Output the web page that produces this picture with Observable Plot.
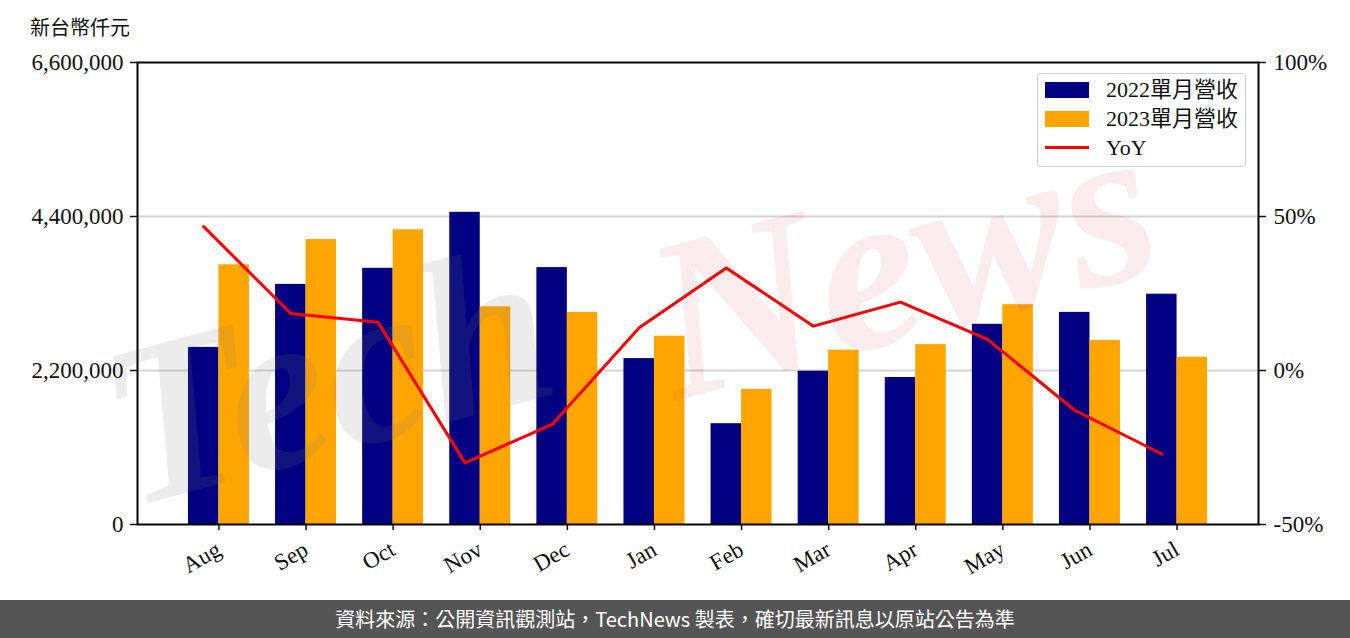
<!DOCTYPE html>
<html lang="zh-Hant"><head><meta charset="utf-8">
<script src="https://cdn.jsdelivr.net/npm/d3@7"></script>
<script src="https://cdn.jsdelivr.net/npm/@observablehq/plot@0.6"></script>
<style>
body{margin:0;background:#fff;width:1350px;height:638px;overflow:hidden;position:relative;font-family:"Liberation Serif","Noto Sans CJK TC",serif;}
#title{position:absolute;left:30px;top:14px;font-size:20px;line-height:28px;font-family:"Liberation Serif","Noto Sans CJK TC",serif;color:#111;}
#chart{position:absolute;left:0;top:45px;}
#footer{position:absolute;left:0;top:600px;width:1350px;height:38px;background:#555555;color:#fff;font-family:"Noto Sans CJK TC",sans-serif;font-size:20px;text-align:center;line-height:38px;}
#legend{position:absolute;left:1037px;top:73px;width:207px;height:92px;border:1.5px solid #cfcfcf;border-radius:4px;background:rgba(255,255,255,0.85);}
.li{position:absolute;left:0;height:24px;width:207px;}
.sw{position:absolute;left:7px;width:44px;}
.lt{position:absolute;left:68px;top:0;font-size:22px;line-height:24px;color:#111;white-space:nowrap;}
</style></head>
<body>
<div id="title">新台幣仟元</div>
<div id="chart"></div>
<div id="legend"></div>
<div id="footer" lang="zh-Hant">資料來源：公開資訊觀測站，TechNews 製表，確切最新訊息以原站公告為準</div>
<script>
const months = ["Aug","Sep","Oct","Nov","Dec","Jan","Feb","Mar","Apr","May","Jun","Jul"];
const rev2022 = [2530000,3430000,3660000,4460000,3670000,2370000,1440000,2190000,2100000,2860000,3030000,3290000];
const rev2023 = [3710000,4070000,4210000,3110000,3030000,2690000,1930000,2490000,2570000,3140000,2630000,2390000];
const yoy = [46.7,18.5,15.7,-30.0,-17.5,13.9,33.3,14.4,22.2,10.1,-12.9,-27.1];
const leftTicks = [0,2200000,4400000,6600000];
const rightTicks = [-50,0,50,100];
const gridTicks = [2200000,4400000];
const seriesNames = ["2022單月營收","2023單月營收","YoY"];
const colors = ["#000080","#FFA500","#FF0000"];

const yMax = 6600000;
const toLeft = p => (p + 50) / 150 * yMax;
const fromLeft = v => v / yMax * 150 - 50;

const rows = months.map((m, i) => ({i, m, a: rev2022[i], b: rev2023[i], r: yoy[i]}));
const W = 0.35;

const chart = Plot.plot({
  width: 1350,
  height: 555,
  marginLeft: 137,
  marginRight: 92,
  marginTop: 17,
  marginBottom: 76,
  style: {fontFamily: '"Liberation Serif", serif', fontSize: "23px", color: "#111", background: "transparent"},
  x: {type: "linear", domain: [-0.935, 11.935], axis: null},
  y: {domain: [0, yMax], axis: null},
  marks: [
    Plot.ruleY(gridTicks, {stroke: "#d4d4d4", strokeWidth: 2}),
    Plot.rect(rows, {x1: d => d.i - W, x2: d => d.i, y1: 0, y2: d => d.a, fill: colors[0]}),
    Plot.rect(rows, {x1: d => d.i, x2: d => d.i + W, y1: 0, y2: d => d.b, fill: colors[1]}),
    Plot.text(["Tech"], {frameAnchor: "middle", dx: -370, dy: 85, rotate: -15, fontSize: 230, fontWeight: "bold", fontStyle: "italic", fill: "#808080", fillOpacity: 0.15}),
    Plot.text(["News"], {frameAnchor: "middle", dx: 205, dy: -30, rotate: -15, fontSize: 230, fontWeight: "bold", fontStyle: "italic", fill: "#d23c50", fillOpacity: 0.1}),
    Plot.line(rows, {x: d => d.i - W / 2, y: d => toLeft(d.r), stroke: colors[2], strokeWidth: 3}),
    Plot.frame({stroke: "#000", strokeWidth: 2}),
    Plot.axisY(leftTicks, {anchor: "left", tickFormat: d3.format(","), tickSize: 7, tickPadding: 7, strokeWidth: 1.5, fontSize: 23}),
    Plot.axisY(rightTicks.map(toLeft), {anchor: "right", tickFormat: v => Math.round(fromLeft(v)) + "%", tickSize: 7, tickPadding: 8, strokeWidth: 1.5, fontSize: 23}),
    Plot.axisX(d3.range(months.length), {anchor: "bottom", tickFormat: i => months[i], tickRotate: -30, tickSize: 6, tickPadding: 17, strokeWidth: 1.5, fontSize: 23})
  ]
});
document.getElementById("chart").appendChild(chart);

const lg = document.getElementById("legend");
seriesNames.forEach((name, k) => {
  const row = document.createElement("div");
  row.className = "li";
  row.style.top = (4 + k * 29) + "px";
  const sw = document.createElement("div");
  sw.className = "sw";
  if (k < 2) { sw.style.top = "4px"; sw.style.height = "16px"; sw.style.background = colors[k]; }
  else { sw.style.top = "10px"; sw.style.height = "3px"; sw.style.background = colors[k]; }
  const t = document.createElement("div");
  t.className = "lt";
  t.textContent = name;
  row.appendChild(sw); row.appendChild(t);
  lg.appendChild(row);
});
</script>
</body></html>
